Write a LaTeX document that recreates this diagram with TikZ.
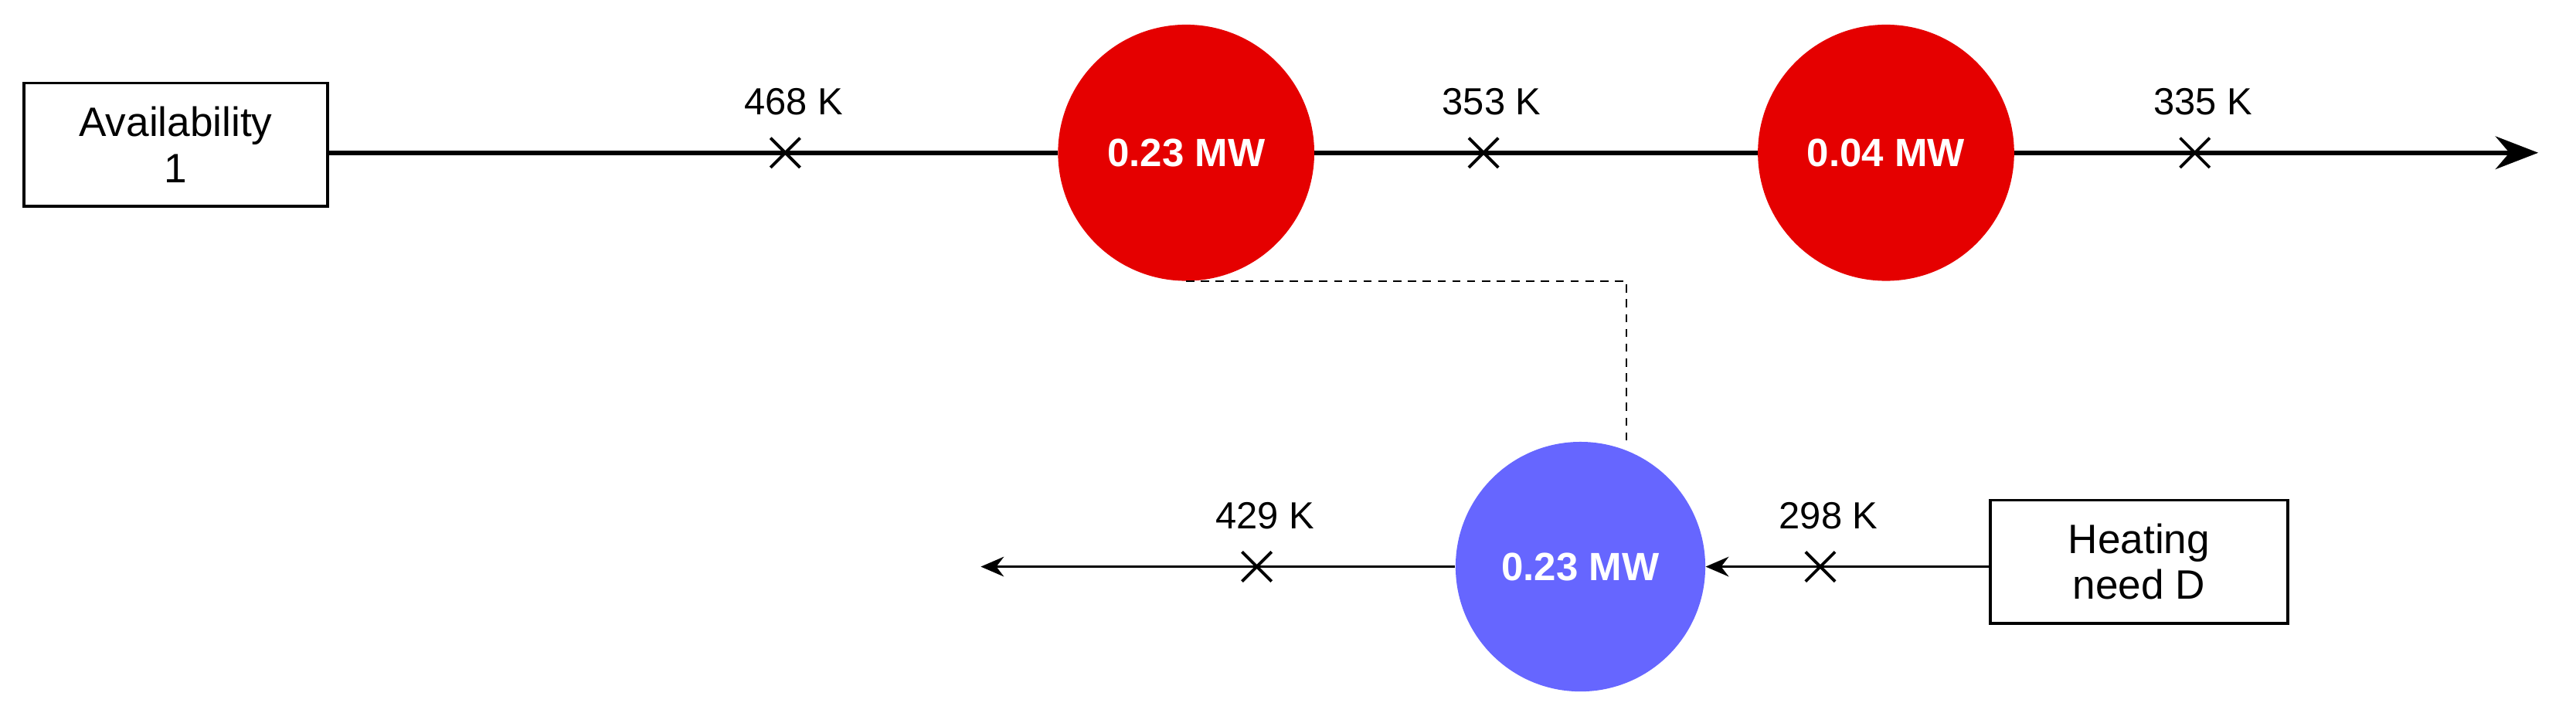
\documentclass[tikz,border=0pt]{standalone}
\usepackage{fontspec}
\setmainfont{Liberation Sans}
\usetikzlibrary{arrows.meta}
\begin{document}
\begin{tikzpicture}[x=1pt,y=-1pt,
  box/.style={draw,line width=1.6pt,fill=white,align=center,font=\fontsize{25}{28}\selectfont,inner sep=0pt},
  hot/.style={circle,fill=red!90!black,draw=none,minimum size=156pt,text=white,font=\fontsize{24}{28}\selectfont\bfseries},
  cold/.style={circle,fill={rgb,255:red,102;green,102;blue,255},draw=none,minimum size=152pt,text=white,font=\fontsize{24}{28}\selectfont\bfseries},
  flow/.style={line width=2.6pt},
  cross/.style={line width=1.8pt},
  lbl/.style={font=\fontsize{23}{26}\selectfont}]
\useasboundingbox (0,0) rectangle (1568,434);
\node[box,minimum width=185pt,minimum height=75pt] (av) at (107,88) {Availability\\1};
\node[hot] (h1) at (722,93) {0.23 MW};
\node[hot] (h2) at (1148,93) {0.04 MW};
\node[cold] (c1) at (962,345) {0.23 MW};
\node[box,minimum width=181pt,minimum height=75pt] (hd) at (1302,342) {Heating\\need D};
\coordinate (e1) at (1545,93);
\coordinate (e2) at (597,345);
\draw[flow] (av.east|-h1) -- (h1);
\draw[flow] (h1) -- (h2);
\draw[flow,-{Stealth[length=26pt,width=20pt]}] (h2) -- (e1);
\draw[line width=1.8pt,-{Stealth[length=14pt,width=12pt]}] (hd.west|-c1) -- (c1.east);
\draw[line width=1.8pt,-{Stealth[length=14pt,width=12pt]}] (c1.west) -- (e2);
\coordinate (d2) at (990,270);
\draw[line width=1.3pt,dash pattern=on 5pt off 4pt] (h1.south) -| (d2);
\foreach \x/\y/\t/\n in {478/93/468 K/a,903/93/353 K/b,1336/93/335 K/c,765/345/429 K/d,1108/345/298 K/e}{
  \draw[cross] (\x-9,\y-9) -- (\x+9,\y+9) (\x-9,\y+9) -- (\x+9,\y-9);
  \node[lbl] (l\n) at (\x+5,\y-31) {\t};
}
\end{tikzpicture}
\end{document}
